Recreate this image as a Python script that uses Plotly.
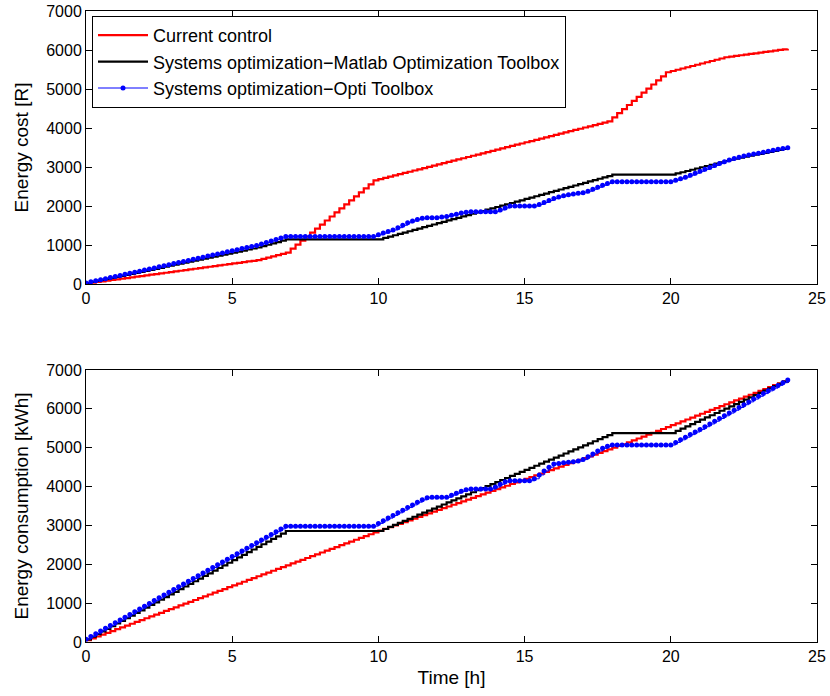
import numpy as np
import plotly.graph_objects as go

# 10-minute sampling grid over one day (hours)
time_h = np.linspace(0, 24, 145)

series_names = [
    "Current control",
    "Systems optimization\u2212Matlab Optimization Toolbox",
    "Systems optimization\u2212Opti Toolbox",
]

# ---- Energy cost per 10-minute interval [R] (one row = 2 hours) ----
cost_current = [
    17, 17, 17, 17, 17, 17, 17, 17, 17, 17, 17, 17,
    17, 17, 17, 17, 17, 17, 17, 17, 17, 17, 17, 17,
    17, 17, 17, 17, 17, 17, 17, 17, 17, 17, 17, 17,
    32, 32, 32, 32, 32, 32, 103, 103, 103, 103, 103, 103,
    103, 103, 103, 103, 103, 103, 103, 103, 103, 103, 103, 103,
    31.5, 31.5, 31.5, 31.5, 31.5, 31.5, 31.5, 31.5, 31.5, 31.5, 31.5, 31.5,
    31.5, 31.5, 31.5, 31.5, 31.5, 31.5, 31.5, 31.5, 31.5, 31.5, 31.5, 31.5,
    31.5, 31.5, 31.5, 31.5, 31.5, 31.5, 31.5, 31.5, 31.5, 31.5, 31.5, 31.5,
    31.5, 31.5, 31.5, 31.5, 31.5, 31.5, 31.5, 31.5, 31.5, 31.5, 31.5, 31.5,
    105, 105, 105, 105, 105, 105, 105, 105, 105, 105, 105, 105,
    32, 32, 32, 32, 32, 32, 32, 32, 32, 32, 32, 32,
    17, 17, 17, 17, 17, 17, 17, 17, 17, 17, 17, 17,
    17,
]
cost_matlab = [
    26, 26, 26, 26, 26, 26, 26, 26, 26, 26, 26, 26,
    26, 26, 26, 26, 26, 26, 26, 26, 26, 26, 26, 26,
    26, 26, 26, 26, 26, 26, 26, 26, 26, 26, 26, 26,
    35, 35, 35, 35, 35, 35, 0, 0, 0, 0, 0, 0,
    0, 0, 0, 0, 0, 0, 0, 0, 0, 0, 0, 0,
    0, 34.5, 34.5, 34.5, 34.5, 34.5, 34.5, 34.5, 34.5, 34.5, 34.5, 34.5,
    34.5, 34.5, 34.5, 34.5, 34.5, 34.5, 34.5, 34.5, 34.5, 34.5, 34.5, 34.5,
    34.5, 34.5, 34.5, 34.5, 34.5, 34.5, 34.5, 34.5, 34.5, 34.5, 34.5, 34.5,
    34.5, 34.5, 34.5, 34.5, 34.5, 34.5, 34.5, 34.5, 34.5, 34.5, 34.5, 34.5,
    34.5, 0, 0, 0, 0, 0, 0, 0, 0, 0, 0, 0,
    0, 32, 32, 32, 32, 32, 32, 32, 32, 32, 32, 32,
    32, 25.5, 25.5, 25.5, 25.5, 25.5, 25.5, 25.5, 25.5, 25.5, 25.5, 25.5,
    25.5,
]
cost_opti = [
    27.5, 27.5, 27.5, 27.5, 27.5, 27.5, 27.5, 27.5, 27.5, 27.5, 27.5, 27.5,
    27.5, 27.5, 27.5, 27.5, 27.5, 27.5, 27.5, 27.5, 27.5, 27.5, 27.5, 27.5,
    27.5, 27.5, 27.5, 27.5, 27.5, 27.5, 27.5, 27.5, 27.5, 27.5, 27.5, 27.5,
    38, 38, 38, 38, 38, 40, 0, 0, 0, 0, 0, 0,
    0, 0, 0, 0, 0, 0, 0, 0, 0, 0, 0, 0,
    40, 45, 40, 40, 60, 60, 65, 45, 40, 30, 15, 0,
    0, 20, 10, 30, 30, 30, 20, 15, 0, 0, 0, 0,
    0, 45, 50, 50, 0, 0, 0, 0, 0, 40, 50, 50,
    50, 40, 30, 30, 20, 15, 15, 40, 50, 50, 50, 50,
    44, 0, 0, 0, 0, 0, 0, 0, 0, 0, 0, 0,
    0, 38, 38, 40, 50, 50, 50, 50, 50, 50, 47, 47,
    46, 35, 35, 35, 24, 23, 23, 25, 25, 25, 22, 22,
    21,
]

# ---- Energy consumption per 10-minute interval [kWh] ----
energy_current = [
    47, 47, 47, 47, 47, 47, 47, 47, 47, 47, 47, 47,
    47, 47, 47, 47, 47, 47, 47, 47, 47, 47, 47, 47,
    47, 47, 47, 47, 47, 47, 47, 47, 47, 47, 47, 47,
    47, 47, 47, 47, 47, 47, 47, 47, 47, 47, 47, 47,
    47, 47, 47, 47, 47, 47, 47, 47, 47, 47, 47, 47,
    44.5, 44.5, 44.5, 44.5, 44.5, 44.5, 44.5, 44.5, 44.5, 44.5, 44.5, 44.5,
    44.5, 44.5, 44.5, 44.5, 44.5, 44.5, 44.5, 44.5, 44.5, 44.5, 44.5, 44.5,
    44.5, 44.5, 44.5, 44.5, 44.5, 44.5, 44.5, 44.5, 44.5, 44.5, 44.5, 44.5,
    44.5, 44.5, 44.5, 44.5, 44.5, 44.5, 44.5, 44.5, 44.5, 44.5, 44.5, 44.5,
    44.5, 44.5, 44.5, 49, 49, 49, 49, 49, 49, 49, 49, 49,
    49, 49, 49, 49, 49, 49, 49, 49, 49, 49, 49, 49,
    49, 49, 49, 49, 49, 49, 49, 49, 49, 49, 49, 49,
    49,
]
energy_matlab = [
    68, 68, 68, 68, 68, 68, 68, 68, 68, 68, 68, 68,
    68, 68, 68, 68, 68, 68, 68, 68, 68, 68, 68, 68,
    68, 68, 68, 68, 68, 68, 68, 68, 68, 68, 68, 68,
    68, 68, 68, 68, 68, 68, 0, 0, 0, 0, 0, 0,
    0, 0, 0, 0, 0, 0, 0, 0, 0, 0, 0, 0,
    0, 52.5, 52.5, 52.5, 52.5, 52.5, 52.5, 52.5, 52.5, 52.5, 52.5, 52.5,
    52.5, 52.5, 52.5, 52.5, 52.5, 52.5, 52.5, 52.5, 52.5, 52.5, 52.5, 52.5,
    52.5, 52.5, 52.5, 52.5, 52.5, 52.5, 52.5, 52.5, 52.5, 52.5, 52.5, 52.5,
    52.5, 52.5, 52.5, 52.5, 52.5, 52.5, 52.5, 52.5, 52.5, 52.5, 52.5, 52.5,
    52.5, 0, 0, 0, 0, 0, 0, 0, 0, 0, 0, 0,
    0, 57.5, 57.5, 57.5, 57.5, 57.5, 57.5, 57.5, 57.5, 57.5, 57.5, 57.5,
    57.5, 57.5, 57.5, 57.5, 57.5, 57.5, 57.5, 57.5, 57.5, 57.5, 57.5, 57.5,
    57.5,
]
energy_opti = [
    71, 71, 71, 71, 71, 71, 71, 71, 71, 71, 71, 71,
    71, 71, 71, 71, 71, 71, 71, 71, 71, 71, 71, 71,
    71, 71, 71, 71, 71, 71, 71, 71, 71, 71, 71, 71,
    71, 71, 71, 71, 71, 71, 0, 0, 0, 0, 0, 0,
    0, 0, 0, 0, 0, 0, 0, 0, 0, 0, 0, 0,
    70, 68, 68, 68, 68, 68, 68, 68, 70, 60, 55, 10,
    0, 0, 0, 55, 50, 50, 40, 20, 0, 0, 0, 0,
    50, 70, 65, 27, 0, 0, 0, 0, 50, 100, 100, 100,
    80, 15, 15, 15, 15, 15, 40, 70, 75, 75, 70, 50,
    34, 0, 0, 0, 0, 0, 0, 0, 0, 0, 0, 0,
    0, 67, 67, 67, 67, 67, 67, 70, 70, 70, 70, 70,
    70, 72, 72, 72, 72, 72, 72, 70, 70, 70, 70, 70,
    70,
]

x_ticks = [0, 5, 10, 15, 20, 25]
y_ticks = [0, 1000, 2000, 3000, 4000, 5000, 6000, 7000]

FONT = "Liberation Sans, Arial, Helvetica, sans-serif"

fig = go.Figure()

styles = [
    dict(mode="lines", line=dict(color="#ff0000", width=2.2, shape="hv")),
    dict(mode="lines", line=dict(color="#000000", width=2.2, shape="hv")),
    dict(mode="lines+markers", line=dict(color="#0000ff", width=1, shape="hv"),
         marker=dict(color="#0000ff", size=5, symbol="circle")),
]

cost_series = [cost_current, cost_matlab, cost_opti]
energy_series = [energy_current, energy_matlab, energy_opti]

for name, inc, st in zip(series_names, cost_series, styles):
    fig.add_trace(go.Scatter(x=time_h, y=np.cumsum(inc), name=name,
                             xaxis="x", yaxis="y", showlegend=True, **st))
for name, inc, st in zip(series_names, energy_series, styles):
    fig.add_trace(go.Scatter(x=time_h, y=np.cumsum(inc), name=name,
                             xaxis="x2", yaxis="y2", showlegend=False, **st))

axis_common = dict(
    showline=True, linecolor="black", linewidth=1, mirror="ticks",
    ticks="inside", ticklen=6, tickcolor="black", tickwidth=1,
    showgrid=False, zeroline=False, automargin=False,
    tickfont=dict(family=FONT, size=16, color="black"),
)

W, H = 830, 696
ml, mr, mt, mb = 86, 13, 11, 54
ph = H - mt - mb
top_dom = [(642 - 284) / ph, 1.0]
bot_dom = [0.0, (642 - 370) / ph]

fig.update_layout(
    width=W, height=H,
    margin=dict(l=ml, r=mr, t=mt, b=mb, autoexpand=False),
    paper_bgcolor="white", plot_bgcolor="white",
    font=dict(family=FONT, color="black"),
    xaxis=dict(domain=[0, 1], anchor="y", range=[0, 25], tickvals=x_ticks, **axis_common),
    yaxis=dict(domain=top_dom, anchor="x", range=[0, 7000], tickvals=y_ticks,
               title=dict(text="Energy cost [R]", font=dict(size=19), standoff=12),
               **axis_common),
    xaxis2=dict(domain=[0, 1], anchor="y2", range=[0, 25], tickvals=x_ticks,
                title=dict(text="Time [h]", font=dict(size=19), standoff=6),
                **axis_common),
    yaxis2=dict(domain=bot_dom, anchor="x2", range=[0, 7000], tickvals=y_ticks,
                title=dict(text="Energy consumption [kWh]", font=dict(size=19), standoff=12),
                **axis_common),
    legend=dict(
        x=(92 - ml) / (W - ml - mr), y=(642 - 16) / ph,
        xanchor="left", yanchor="top",
        bgcolor="white", bordercolor="black", borderwidth=1,
        font=dict(family=FONT, size=18, color="black"),
        itemwidth=50,
    ),
    showlegend=True,
)

fig.write_html("out.html",
               config={"displayModeBar": False},
               post_script="document.body.style.margin='0';document.body.style.overflow='hidden';")
